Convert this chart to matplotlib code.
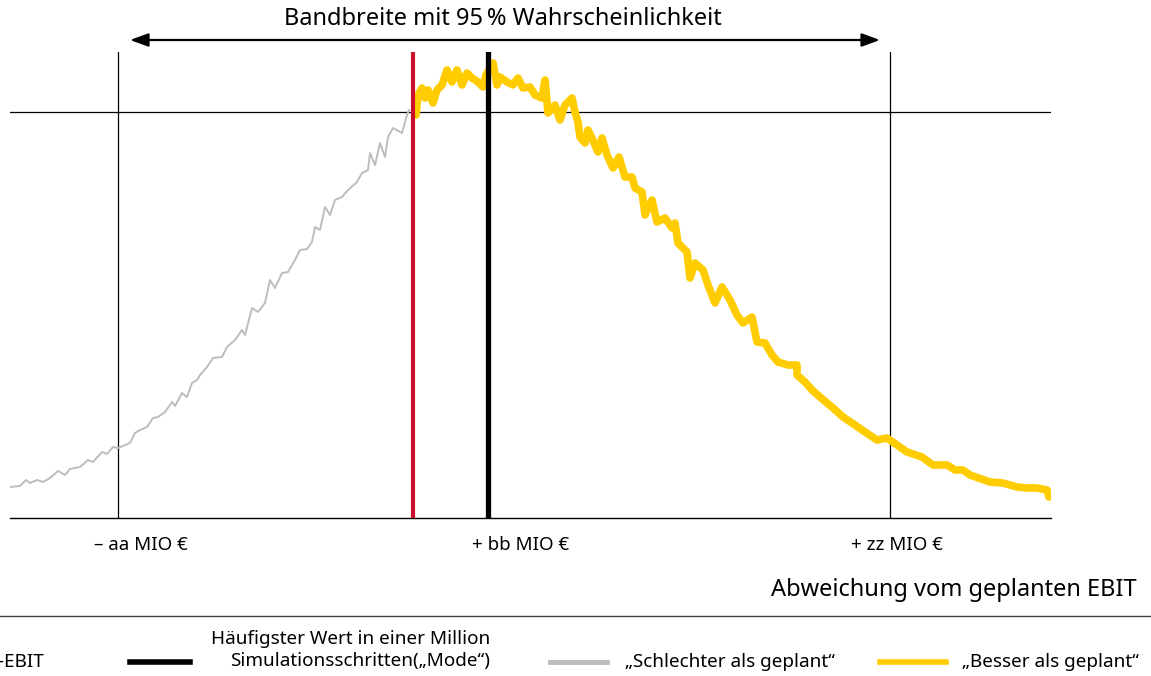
import matplotlib
matplotlib.use('Agg')
import matplotlib.pyplot as plt
from matplotlib.lines import Line2D

plt.rcParams['font.family'] = ['Noto Sans', 'DejaVu Sans']

# Simulation: x = Abweichung (Skaleneinheiten), y = Häufigkeit
schlechter = [(0, 3.1), (1, 3.2), (1.6, 3.8), (2, 3.5), (2.7, 3.8), (3.3, 3.6), (4, 4.0), (4.8, 4.7),
              (5.5, 4.3), (6, 4.9), (7, 5.1), (7.8, 5.8), (8.3, 5.6), (9.2, 6.6), (9.7, 6.4), (10.3, 7.1),
              (10.8, 7.0), (11.5, 7.3), (12, 7.5), (12.5, 8.5), (13, 8.8), (13.7, 9.1), (14.3, 10.0),
              (14.8, 10.1), (15.5, 10.6), (16.2, 11.6), (16.5, 11.2), (17.2, 12.5), (17.7, 12.1),
              (18.2, 13.5), (18.7, 13.8), (19, 14.3), (19.7, 15.1), (20.3, 16.0), (21.2, 16.1),
              (21.7, 17.1), (22.5, 17.8), (23.2, 18.8), (23.5, 18.3), (24.2, 21.0), (24.8, 20.6),
              (25.5, 21.5), (26, 23.8), (26.5, 23.0), (27.2, 24.5), (27.8, 24.6), (28.5, 25.8),
              (29, 26.8), (29.7, 26.9), (30.2, 27.6), (30.5, 29.1), (31, 28.8), (31.5, 31.1),
              (32, 30.3), (32.5, 31.8), (33.2, 32.1), (33.8, 32.8), (34.7, 33.6), (35.2, 34.5),
              (35.8, 34.8), (36, 36.5), (36.5, 35.3), (37, 37.5), (37.5, 36.1), (37.8, 38.1),
              (38.3, 39.0), (39.2, 38.5), (39.7, 40.3), (39.9, 40.8)]

besser = [(40.6, 40.3), (40.8, 42.3), (41.2, 43.0), (41.5, 42.0), (41.8, 42.8), (42.3, 41.5), (42.7, 42.8),
          (43.2, 43.3), (43.7, 44.8), (44.2, 43.6), (44.7, 44.8), (45.2, 43.3), (45.7, 44.5), (46.2, 44.0),
          (46.8, 43.6), (47.3, 43.1), (47.6, 44.3), (48.3, 45.5), (48.7, 43.3), (49.0, 44.1), (49.7, 43.6),
          (50.3, 43.3), (50.8, 44.0), (51.3, 43.0), (52.0, 43.1), (52.5, 42.3), (53.2, 42.0), (53.5, 43.8),
          (53.8, 40.5), (54.5, 41.3), (55.0, 39.8), (55.5, 41.3), (56.2, 42.0), (56.5, 40.6), (56.8, 39.6),
          (57.0, 38.1), (57.5, 37.5), (57.8, 38.8), (58.2, 38.0), (58.8, 36.6), (59.2, 38.0), (59.7, 36.3),
          (60.3, 35.0), (60.9, 36.1), (61.5, 34.1), (62.2, 34.1), (62.5, 33.0), (63.2, 32.6), (63.5, 30.3),
          (64.2, 31.8), (64.7, 29.6), (65.5, 30.0), (66.2, 29.0), (66.5, 29.5), (66.8, 27.5), (67.7, 26.6),
          (68.0, 24.0), (68.5, 25.5), (69.3, 24.8), (69.8, 23.3), (70.5, 21.5), (71.2, 23.1), (72.0, 21.8),
          (72.7, 20.3), (73.3, 19.5), (74.2, 20.1), (74.7, 17.6), (75.5, 17.5), (76.2, 16.3), (76.8, 15.6),
          (77.8, 15.3), (78.7, 15.3), (78.7, 14.3), (79.5, 13.6), (80.2, 12.8), (81.0, 12.1), (82.3, 11.0),
          (83.3, 10.1), (84.5, 9.3), (85.5, 8.6), (86.7, 7.8), (87.7, 8.0), (88.7, 7.3), (89.7, 6.6),
          (91.2, 6.1), (92.3, 5.3), (93.7, 5.3), (94.5, 4.8), (95.3, 4.8), (96.0, 4.3), (98.0, 3.6),
          (99.3, 3.5), (100.7, 3.1), (101.7, 3.0), (102.7, 3.0), (103.7, 2.8), (103.9, 2.1)]

plan_ebit = 40.3
mode = 47.8
band = [10.8, 88.0]
ref_level = 40.6
tick_pos = [13.1, 51.1, 88.7]
tick_labels = ['– aa MIO €', '+ bb MIO €', '+ zz MIO €']

GELB = '#FFCC00'
GRAU = '#BDBDBD'
ROT = '#C8102E'

fig = plt.figure(figsize=(11.51, 6.76), dpi=100)
ax = fig.add_axes([10 / 1151, 158 / 676, 1041 / 1151, 466 / 676])

gx, gy = zip(*schlechter)
bx, by = zip(*besser)
ax.plot(gx, gy, color=GRAU, lw=1.4, zorder=2)
ax.plot(bx, by, color=GELB, lw=5.5, solid_capstyle='round', solid_joinstyle='round', zorder=2)

ax.axhline(ref_level, color='black', lw=0.9, zorder=1)
for b in band:
    ax.axvline(b, color='black', lw=0.9, zorder=1)
ax.axvline(plan_ebit, color=ROT, lw=3, zorder=3)
ax.axvline(mode, color='black', lw=3.8, zorder=3)

ax.set_xlim(0, 104.1)
ax.set_ylim(0, 46.6)
for s in ['top', 'right', 'left']:
    ax.spines[s].set_visible(False)
ax.spines['bottom'].set_linewidth(1)
ax.set_yticks([])
ax.set_xticks(tick_pos)
ax.set_xticklabels(tick_labels, fontsize=13.5)
ax.tick_params(axis='x', length=0, pad=13)

# Pfeil für die Bandbreite
ax.annotate('', xy=(12.0, 47.8), xytext=(87.0, 47.8), xycoords='data',
            arrowprops=dict(arrowstyle='<|-|>,head_length=1.1,head_width=0.4', color='black', lw=1.6,
                            shrinkA=0, shrinkB=0),
            annotation_clip=False)
fig.text(503 / 1151, 1 - 19 / 676, 'Bandbreite mit 95\u2009% Wahrscheinlichkeit',
         ha='center', va='center', fontsize=17)

fig.text(1137 / 1151, 1 - 590 / 676, 'Abweichung vom geplanten EBIT',
         ha='right', va='center', fontsize=17)

# Trennlinie
fig.add_artist(Line2D([0, 1], [1 - 616 / 676] * 2, color='#444444', lw=1, transform=fig.transFigure))

# Legende (erster Eintrag ragt wie im Original links aus dem Bild)
ly = 1 - 662 / 676
fig.text(44 / 1151, ly, 'Plan-EBIT', ha='right', va='center', fontsize=13.6)
fig.add_artist(Line2D([130 / 1151, 190 / 1151], [ly, ly], color='black', lw=4, transform=fig.transFigure))
fig.text(490 / 1151, 1 - 650 / 676, 'Häufigster Wert in einer Million\nSimulationsschritten(„Mode“)',
         ha='right', va='center', fontsize=13.6, linespacing=1.25, multialignment='right')
fig.add_artist(Line2D([550 / 1151, 607 / 1151], [ly, ly], color=GRAU, lw=3.5, transform=fig.transFigure))
fig.text(625 / 1151, ly, '„Schlechter als geplant“', ha='left', va='center', fontsize=13.6)
fig.add_artist(Line2D([880 / 1151, 946 / 1151], [ly, ly], color=GELB, lw=4, transform=fig.transFigure))
fig.text(962 / 1151, ly, '„Besser als geplant“', ha='left', va='center', fontsize=13.6)

fig.savefig('out.png', dpi=100)
